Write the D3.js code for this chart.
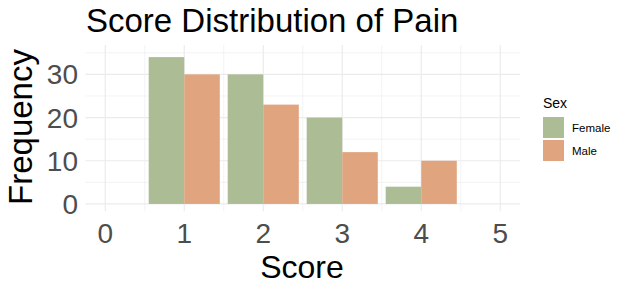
<!DOCTYPE html>
<html>
<head>
<meta charset="utf-8">
<script src="https://cdn.jsdelivr.net/npm/d3@7"></script>
<style>
  body { margin: 0; background: #fff; }
  text { font-family: "Liberation Sans", Arial, sans-serif; }
</style>
</head>
<body>
<svg id="chart" width="626" height="291"></svg>
<script>
// data
var scores = [1, 2, 3, 4];
var female = [34, 30, 20, 4];
var male = [30, 23, 12, 10];
var sexes = ["Female", "Male"];
var xTicks = [0, 1, 2, 3, 4, 5];
var yTicks = [0, 10, 20, 30];
var yMinor = [5, 15, 25, 35];
var xMinor = [0.5, 1.5, 2.5, 3.5, 4.5];

var colors = { Female: "#acbd96", Male: "#e0a57f" };

var svg = d3.select("#chart");

var x = d3.scaleLinear().domain([-0.25, 5.25]).range([85.5, 520]);
var y = d3.scaleLinear().domain([-1.7, 36.8]).range([211.3, 45]);
var barW = 0.45;

var grid = svg.append("g");
// minor grid
grid.selectAll(".hmin").data(yMinor).enter().append("line")
    .attr("x1", x.range()[0]).attr("x2", x.range()[1])
    .attr("y1", function (d) { return y(d); }).attr("y2", function (d) { return y(d); })
    .attr("stroke", "#ebebeb").attr("stroke-width", 0.6);
grid.selectAll(".vmin").data(xMinor).enter().append("line")
    .attr("y1", y.range()[0]).attr("y2", y.range()[1])
    .attr("x1", function (d) { return x(d); }).attr("x2", function (d) { return x(d); })
    .attr("stroke", "#ebebeb").attr("stroke-width", 0.6);
// major grid
grid.selectAll(".hmaj").data(yTicks).enter().append("line")
    .attr("x1", x.range()[0]).attr("x2", x.range()[1])
    .attr("y1", function (d) { return y(d); }).attr("y2", function (d) { return y(d); })
    .attr("stroke", "#ebebeb").attr("stroke-width", 1.2);
grid.selectAll(".vmaj").data(xTicks).enter().append("line")
    .attr("y1", y.range()[0]).attr("y2", y.range()[1])
    .attr("x1", function (d) { return x(d); }).attr("x2", function (d) { return x(d); })
    .attr("stroke", "#ebebeb").attr("stroke-width", 1.2);

// bars
var rows = [];
scores.forEach(function (s, i) {
    rows.push({ score: s, sex: "Female", n: female[i] });
    rows.push({ score: s, sex: "Male", n: male[i] });
});

svg.append("g").selectAll("rect").data(rows).enter().append("rect")
    .attr("x", function (d) { return d.sex == "Female" ? x(d.score - barW) : x(d.score); })
    .attr("width", x(barW) - x(0))
    .attr("y", function (d) { return y(d.n); })
    .attr("height", function (d) { return y(0) - y(d.n); })
    .attr("fill", function (d) { return colors[d.sex]; });

// tick labels
svg.append("g").selectAll("text").data(xTicks).enter().append("text")
    .attr("x", function (d) { return x(d); })
    .attr("y", 243)
    .attr("text-anchor", "middle")
    .attr("font-size", 28)
    .attr("fill", "#4d4d4d")
    .text(function (d) { return d; });

svg.append("g").selectAll("text").data(yTicks).enter().append("text")
    .attr("x", 78)
    .attr("y", function (d) { return y(d); })
    .attr("dy", "0.36em")
    .attr("text-anchor", "end")
    .attr("font-size", 28)
    .attr("fill", "#4d4d4d")
    .text(function (d) { return d; });

// titles
svg.append("text").attr("x", 86).attr("y", 32)
    .attr("font-size", 33).attr("fill", "#000")
    .text("Score Distribution of Pain");

svg.append("text").attr("x", 302).attr("y", 278)
    .attr("text-anchor", "middle")
    .attr("font-size", 32).attr("fill", "#000")
    .text("Score");

svg.append("text")
    .attr("transform", "translate(32,127) rotate(-90)")
    .attr("text-anchor", "middle")
    .attr("font-size", 33).attr("fill", "#000")
    .text("Frequency");

// legend
var leg = svg.append("g");
leg.append("text").attr("x", 543).attr("y", 108)
    .attr("font-size", 14).text("Sex");
var keys = leg.selectAll("g.key").data(sexes).enter().append("g")
    .attr("transform", function (d, i) { return "translate(543," + (117 + i * 23) + ")"; });
keys.append("rect").attr("width", 21).attr("height", 21)
    .attr("fill", function (d) { return colors[d]; });
keys.append("text").attr("x", 29).attr("y", 15)
    .attr("font-size", 11.5).text(function (d) { return d; });
</script>
</body>
</html>
